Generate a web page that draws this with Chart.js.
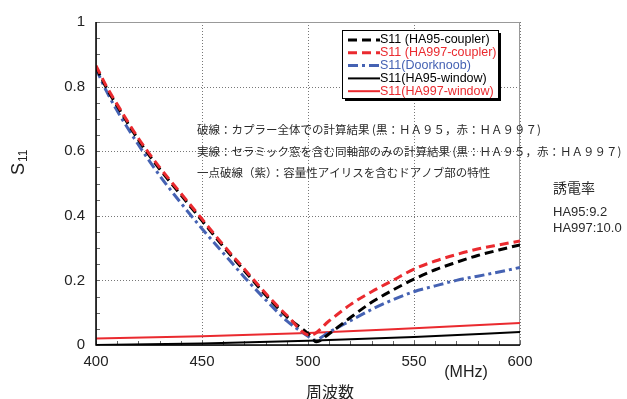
<!DOCTYPE html>
<html><head><meta charset="utf-8">
<script src="https://cdn.jsdelivr.net/npm/chart.js@4/dist/chart.umd.min.js"></script>
<style>html,body{margin:0;padding:0;background:#fff}#wrap{width:627px;height:399px}</style>
</head><body><div id="wrap"><canvas id="c" width="627" height="399"></canvas></div>
<script>
// ---- data ----
const xTicks = [400, 450, 500, 550, 600];
const yTicks = [0, 0.2, 0.4, 0.6, 0.8, 1];

const freqHA95c = [400,405,410,420,430,440,450,460,470,480,490,500,504,510,520,530,540,550,560,570,580,590,600];
const valHA95c  = [0.86,0.795,0.74,0.635,0.545,0.465,0.385,0.305,0.23,0.155,0.088,0.035,0.01,0.035,0.085,0.132,0.17,0.204,0.233,0.256,0.277,0.294,0.31];

const freqHA997c = [400,405,410,420,430,440,450,460,470,480,490,501,510,520,530,540,550,560,570,580,590,600];
const valHA997c  = [0.865,0.8,0.745,0.64,0.55,0.47,0.39,0.31,0.235,0.16,0.092,0.03,0.075,0.125,0.165,0.2,0.235,0.26,0.28,0.297,0.31,0.322];

const freqDoor = [400,405,410,420,430,440,450,460,470,480,490,500,503,510,520,530,540,550,560,570,580,590,600];
const valDoor  = [0.855,0.785,0.725,0.62,0.525,0.44,0.36,0.285,0.21,0.14,0.075,0.027,0.015,0.04,0.075,0.11,0.14,0.165,0.183,0.2,0.213,0.226,0.24];

const freqWin = [400,450,500,550,600];
const valHA95w  = [0.0,0.005,0.013,0.025,0.04];
const valHA997w = [0.02,0.027,0.037,0.052,0.068];

const seriesLabels = ["S11 (HA95-coupler)","S11 (HA997-coupler)","S11(Doorknoob)","S11(HA95-window)","S11(HA997-window)"];
const notes = [
  "破線：カプラー全体での計算結果 (黒：ＨＡ９５，赤：ＨＡ９９７)",
  "実線：セラミック窓を含む同軸部のみの計算結果 (黒：ＨＡ９５，赤：ＨＡ９９７)",
  "一点破線（紫）：容量性アイリスを含むドアノブ部の特性"
];
const sideNotes = ["誘電率", "HA95:9.2", "HA997:10.0"];

const RED = "#ea2a2f", BLUE = "#4562b3", BLACK = "#000";
const pts = (xs, ys) => xs.map((x, i) => ({x, y: ys[i]}));

const datasets = [
  {label: seriesLabels[0], data: pts(freqHA95c, valHA95c), borderColor: BLACK, borderWidth: 3, borderDash: [9,5], order: 2},
  {label: seriesLabels[1], data: pts(freqHA997c, valHA997c), borderColor: RED, borderWidth: 3, borderDash: [9,5], order: 1},
  {label: seriesLabels[2], data: pts(freqDoor, valDoor), borderColor: BLUE, borderWidth: 3, borderDash: [10,4,3,4], order: 3},
  {label: seriesLabels[3], data: pts(freqWin, valHA95w), borderColor: BLACK, borderWidth: 2, order: 4},
  {label: seriesLabels[4], data: pts(freqWin, valHA997w), borderColor: RED, borderWidth: 2, order: 5}
];
datasets.forEach(d => { d.pointRadius = 0; d.fill = false; d.cubicInterpolationMode = 'monotone'; d.tension = 0.4; });

const textColors = [BLACK, RED, BLUE, BLACK, RED];
const FONT = "'Liberation Sans', Arial, sans-serif";

const decor = {
  id: 'decor',
  beforeDatasetsDraw(chart) {
    const {ctx, chartArea: a, scales: {x, y}} = chart;
    ctx.save();
    // dotted grid
    ctx.strokeStyle = '#777'; ctx.lineWidth = 1;
    ctx.setLineDash([1, 2]);
    ctx.beginPath();
    x.ticks.forEach(t => {
      const px = Math.round(x.getPixelForValue(t.value)) + 0.5;
      ctx.moveTo(px, a.top); ctx.lineTo(px, a.bottom);
    });
    y.ticks.forEach(t => {
      const py = Math.round(y.getPixelForValue(t.value)) + 0.5;
      ctx.moveTo(a.left, py); ctx.lineTo(a.right, py);
    });
    ctx.stroke();
    ctx.setLineDash([]);
    // box border
    ctx.strokeStyle = '#999';
    ctx.strokeRect(a.left + 0.5, a.top + 0.5, a.right - a.left - 1, a.bottom - a.top);
    // minor ticks
    ctx.strokeStyle = '#666';
    ctx.beginPath();
    for (let v = 400; v <= 600; v += 10) {
      const px = Math.round(x.getPixelForValue(v)) + 0.5;
      ctx.moveTo(px, a.bottom); ctx.lineTo(px, a.bottom - 4);
    }
    for (let k = 0; k <= 20; k++) {
      const py = Math.round(y.getPixelForValue(k * 0.05)) + 0.5;
      ctx.moveTo(a.left, py); ctx.lineTo(a.left + 4, py);
    }
    ctx.stroke();
    ctx.restore();
  },
  afterDraw(chart) {
    const {ctx, chartArea: a} = chart;
    ctx.save();
    // axes solid lines
    ctx.strokeStyle = '#000'; ctx.lineWidth = 1.5;
    ctx.beginPath();
    ctx.moveTo(a.left, a.top); ctx.lineTo(a.left, a.bottom); ctx.lineTo(a.right, a.bottom);
    ctx.stroke();
    // legend box
    const lx = 342, ly = 30, lw = 156, lh = 68;
    ctx.fillStyle = '#000';
    ctx.fillRect(lx + 3, ly + 3, lw, lh);
    ctx.fillStyle = '#fff';
    ctx.fillRect(lx, ly, lw, lh);
    ctx.strokeStyle = '#000'; ctx.lineWidth = 1;
    ctx.strokeRect(lx + 0.5, ly + 0.5, lw, lh);
    ctx.font = "12.5px " + FONT;
    ctx.textBaseline = 'middle';
    chart.data.datasets.forEach((d, i) => {
      const yy = ly + 10 + i * 12.8;
      ctx.strokeStyle = d.borderColor;
      ctx.lineWidth = d.borderWidth;
      ctx.setLineDash(d.borderDash || []);
      ctx.beginPath(); ctx.moveTo(lx + 6, yy); ctx.lineTo(lx + 38, yy); ctx.stroke();
      ctx.setLineDash([]);
      ctx.fillStyle = textColors[i];
      ctx.fillText(d.label, lx + 38, yy);
    });
    // notes
    ctx.fillStyle = '#2a2a2a';
    ctx.font = "11.5px 'Noto Sans CJK JP', sans-serif";
    ctx.textBaseline = 'middle';
    notes.forEach((t, i) => ctx.fillText(t, 197, 130 + i * 21.5));
    ctx.font = "14px 'Noto Sans CJK JP', sans-serif";
    ctx.fillText(sideNotes[0], 553, 188);
    ctx.font = "13px " + FONT;
    ctx.fillText(sideNotes[1], 553, 212);
    ctx.fillText(sideNotes[2], 553, 228);
    // unit
    ctx.fillStyle = '#222';
    ctx.font = "16px " + FONT;
    ctx.textAlign = 'center';
    ctx.fillText("(MHz)", 466, 373);
    // x title
    ctx.font = "16px 'Noto Sans CJK JP', sans-serif";
    ctx.fillText("周波数", 330, 392);
    // y title
    ctx.translate(19, 168);
    ctx.rotate(-Math.PI / 2);
    ctx.textAlign = 'left';
    ctx.font = "18px " + FONT;
    ctx.fillText("S", -7, 0);
    ctx.font = "12px " + FONT;
    ctx.fillText("11", 6, 5);
    ctx.restore();
  }
};

new Chart(document.getElementById('c'), {
  type: 'line',
  data: {datasets},
  options: {
    responsive: false,
    animation: false,
    layout: {padding: {left: 0, right: 107, top: 22, bottom: 0}},
    plugins: {legend: {display: false}, tooltip: {enabled: false}},
    scales: {
      x: {
        type: 'linear', min: 400, max: 600,
        afterBuildTicks: s => { s.ticks = xTicks.map(v => ({value: v})); },
        afterFit: s => { s.height = 54; },
        ticks: {color: '#222', font: {size: 15, family: FONT}, padding: 8, maxRotation: 0},
        grid: {display: false, drawTicks: false},
        border: {display: false}
      },
      y: {
        type: 'linear', min: 0, max: 1,
        afterBuildTicks: s => { s.ticks = yTicks.map(v => ({value: v})); },
        afterFit: s => { s.width = 96; },
        ticks: {color: '#222', font: {size: 15, family: FONT}, padding: 11, callback: v => String(v)},
        grid: {display: false, drawTicks: false},
        border: {display: false}
      }
    }
  },
  plugins: [decor]
});
</script>
</body></html>
